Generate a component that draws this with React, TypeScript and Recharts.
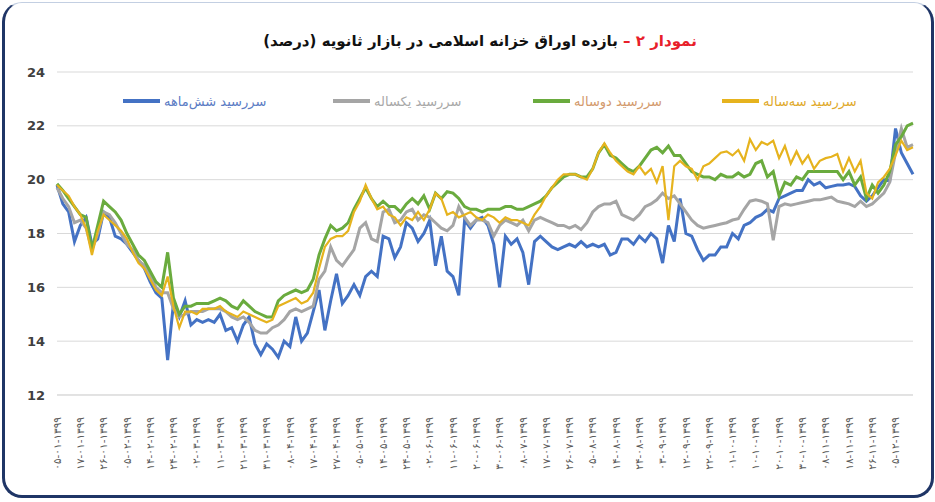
import React from 'react';
import { LineChart, Line, XAxis, YAxis, CartesianGrid } from 'recharts';

// x-axis tick labels (one every 4 points), written in display order
const dates = [
  '۰۵-۰۱-۱۳۹۹', '۱۷-۰۱-۱۳۹۹', '۲۶-۰۱-۱۳۹۹', '۰۵-۰۲-۱۳۹۹', '۱۴-۰۲-۱۳۹۹', '۲۴-۰۲-۱۳۹۹',
  '۰۲-۰۳-۱۳۹۹', '۱۱-۰۳-۱۳۹۹', '۲۱-۰۳-۱۳۹۹', '۳۱-۰۳-۱۳۹۹', '۰۸-۰۴-۱۳۹۹', '۱۷-۰۴-۱۳۹۹',
  '۲۷-۰۴-۱۳۹۹', '۰۵-۰۵-۱۳۹۹', '۱۴-۰۵-۱۳۹۹', '۲۴-۰۵-۱۳۹۹', '۰۲-۰۶-۱۳۹۹', '۱۱-۰۶-۱۳۹۹',
  '۲۰-۰۶-۱۳۹۹', '۳۰-۰۶-۱۳۹۹', '۰۸-۰۷-۱۳۹۹', '۱۷-۰۷-۱۳۹۹', '۲۶-۰۷-۱۳۹۹', '۰۵-۰۸-۱۳۹۹',
  '۱۴-۰۸-۱۳۹۹', '۲۴-۰۸-۱۳۹۹', '۰۳-۰۹-۱۳۹۹', '۱۲-۰۹-۱۳۹۹', '۲۲-۰۹-۱۳۹۹', '۰۱-۱۰-۱۳۹۹',
  '۱۰-۱۰-۱۳۹۹', '۲۰-۱۰-۱۳۹۹', '۳۰-۱۰-۱۳۹۹', '۰۸-۱۱-۱۳۹۹', '۱۸-۱۱-۱۳۹۹', '۲۶-۱۱-۱۳۹۹',
  '۰۵-۱۲-۱۳۹۹',
];

const sixMonth = [
  19.8, 19.1, 18.8, 17.7, 18.3, 18.6, 17.6, 17.8, 18.8, 18.6, 17.9, 17.8, 17.6, 17.3, 17.0, 16.7, 16.2, 15.8, 15.6,
  13.3, 15.4, 14.9, 15.5, 14.6, 14.8, 14.7, 14.8, 14.7, 15.0, 14.4, 14.5, 14.0, 14.6, 14.9, 13.9, 13.5, 13.9, 13.7, 13.4,
  14.0, 13.8, 14.9, 14.0, 14.3, 15.1, 15.9, 14.4, 15.5, 16.5,
  15.4, 15.7, 16.1, 15.7, 16.4, 16.6, 16.4, 17.9, 17.8, 17.1, 17.5, 18.4, 18.2, 17.7, 18.0, 18.5, 16.8, 17.9, 16.6, 16.4,
  15.7, 18.5, 18.2, 18.5, 18.6, 18.3, 17.6, 16.0, 17.9, 17.6, 17.8, 17.3, 16.1, 17.7, 17.9, 17.7, 17.5, 17.4, 17.5, 17.6,
  17.5, 17.7, 17.5, 17.6, 17.5, 17.6, 17.2, 17.3, 17.8,
  17.8, 17.6, 17.9, 17.7, 18.0, 17.8, 16.9, 18.3, 17.7, 19.3, 18.0, 17.9, 17.4, 17.0, 17.2, 17.2, 17.5, 17.5, 18.0, 17.8,
  18.3, 18.4, 18.6, 18.7, 18.9, 18.8, 19.3, 19.4, 19.5, 19.6, 19.6, 20.0, 19.8, 19.9, 19.7, 19.75, 19.8, 19.8, 19.85, 19.75,
  19.4, 19.2, 19.4, 19.7, 20.0, 19.95, 21.9, 21.0, 20.6, 20.2,
];

const oneYear = [
  19.7, 19.3, 19.0, 18.4, 18.5, 18.2, 17.4, 18.0, 18.8, 18.7, 18.4, 18.0, 17.6, 17.4, 17.0, 16.8, 16.4, 16.0, 15.8,
  15.8, 15.2, 14.9, 15.0, 15.1, 15.1, 15.1, 15.2, 15.2, 15.2, 15.1, 14.9, 14.8, 14.9, 14.7, 14.4, 14.3, 14.3, 14.5, 14.6,
  14.8, 15.1, 15.2, 15.1, 15.2, 15.3, 16.3, 16.6, 17.5, 17.0,
  16.8, 17.1, 17.4, 18.2, 18.4, 17.8, 17.7, 18.8, 18.9, 18.4, 18.5, 18.8, 18.9, 18.5, 18.7, 18.6, 18.4, 18.2, 18.1, 18.3,
  19.0, 18.6, 18.3, 18.5, 18.5, 18.4, 17.9, 18.3, 18.5, 18.4, 18.3, 18.5, 18.1, 18.5, 18.6, 18.5, 18.4, 18.3, 18.3, 18.2,
  18.3, 18.15, 18.4, 18.8, 19.0, 19.1, 19.1, 19.2, 18.7,
  18.6, 18.5, 18.7, 19.0, 19.1, 19.25, 19.5, 19.3, 19.4, 19.1, 18.8, 18.5, 18.3, 18.2, 18.25, 18.3, 18.35, 18.4, 18.5, 18.55,
  18.9, 19.2, 19.25, 19.2, 19.1, 17.75, 19.0, 19.1, 19.05, 19.1, 19.15, 19.2, 19.25, 19.25, 19.3, 19.35, 19.2, 19.15, 19.1, 19.0,
  19.2, 19.0, 19.1, 19.3, 19.5, 19.9, 21.0, 21.9, 21.2, 21.3,
];

const twoYear = [
  19.85, 19.6, 19.3, 19.0, 18.7, 18.6, 17.4, 18.3, 19.2, 19.0, 18.8, 18.5, 18.0, 17.6, 17.2, 17.0, 16.6, 16.2, 16.0,
  17.3, 15.6, 15.0, 15.3, 15.3, 15.4, 15.4, 15.4, 15.5, 15.6, 15.5, 15.3, 15.2, 15.5, 15.3, 15.1, 15.0, 14.9, 14.9, 15.5,
  15.7, 15.8, 15.9, 15.8, 15.9, 16.3, 17.2, 17.8, 18.3, 18.1,
  18.2, 18.4, 18.9, 19.3, 19.7, 19.3, 19.0, 19.2, 19.0, 19.0, 18.8, 19.1, 19.3, 19.1, 19.4, 18.9, 19.5, 19.3, 19.55, 19.5,
  19.3, 19.0, 18.9, 18.9, 18.8, 18.9, 18.9, 18.9, 19.0, 19.0, 18.9, 18.9, 19.0, 19.1, 19.2, 19.4, 19.7, 19.9, 20.1, 20.2,
  20.2, 20.1, 20.1, 20.4, 21.0, 21.3, 20.9, 20.8, 20.6,
  20.4, 20.3, 20.5, 20.8, 21.1, 21.2, 21.0, 21.25, 20.9, 20.9, 20.6, 20.3, 20.2, 20.1, 20.1, 20.0, 20.2, 20.1, 20.1, 20.25,
  20.1, 20.2, 20.6, 20.7, 20.1, 20.3, 19.4, 19.9, 19.8, 20.1, 20.0, 20.3, 20.3, 20.3, 20.3, 20.3, 20.3, 20.0, 20.3, 19.8,
  20.1, 19.3, 19.8, 19.5, 19.8, 20.3, 21.3, 21.6, 22.0, 22.1,
];

const threeYear = [
  19.8, 19.6, 19.4, 19.0, 18.7, 18.2, 17.2, 18.1, 18.7, 18.5, 18.3, 18.1, 17.8, 17.3, 16.9, 16.7, 16.3, 15.9, 15.7,
  16.4, 15.3, 14.5, 15.1, 15.1, 15.0, 15.2, 15.2, 15.2, 15.3, 15.1, 15.0, 14.9, 15.1, 15.0, 14.9, 14.8, 14.7, 14.8, 15.3,
  15.4, 15.5, 15.6, 15.4, 15.5, 15.8, 16.7, 17.5, 17.8, 17.9,
  17.9, 18.1, 18.8, 19.2, 19.8, 19.3, 18.9, 19.0, 18.7, 18.6, 18.3, 18.6, 18.5, 18.8, 18.5, 18.9, 19.5, 19.3, 18.7, 18.8,
  18.6, 18.7, 18.8, 18.6, 18.5, 18.7, 18.6, 18.4, 18.6, 18.5, 18.5, 18.4, 18.3, 18.7, 19.0, 19.4, 19.7, 20.0, 20.2, 20.2,
  20.2, 20.1, 20.0, 20.4, 21.0, 21.35, 21.0, 20.7, 20.5,
  20.3, 20.2, 20.5, 20.2, 20.4, 19.9, 20.5, 18.5, 20.5, 20.7, 20.5, 20.4, 20.0, 20.5, 20.6, 20.8, 21.0, 21.05, 20.9, 21.1,
  20.7, 21.5, 21.1, 21.4, 21.3, 21.45, 20.8, 21.25, 20.6, 21.05, 20.6, 20.9, 20.4, 20.7, 20.8, 20.85, 20.95, 20.3, 20.8, 20.3,
  20.7, 19.5, 19.3, 19.9, 20.1, 20.4, 20.9, 21.45, 21.1, 21.2,
];

const yTicks = [12, 14, 16, 18, 20, 22, 24];

const series = [
  { key: 'sixMonth', name: 'سررسید شش‌ماهه', color: '#4472c4', text: '#5b7cc4', width: 3, left: 123 },
  { key: 'oneYear', name: 'سررسید یکساله', color: '#a5a5a5', text: '#a8a8a8', width: 3, left: 333 },
  { key: 'twoYear', name: 'سررسید دوساله', color: '#6aab3e', text: '#d39a6c', width: 3, left: 533 },
  { key: 'threeYear', name: 'سررسید سه‌ساله', color: '#e6b31e', text: '#e0a92a', width: 2.2, left: 722 },
];

const data = sixMonth.map((v, i) => ({
  idx: i,
  sixMonth: v,
  oneYear: oneYear[i],
  twoYear: twoYear[i],
  threeYear: threeYear[i],
}));

const FONT = '"DejaVu Sans", sans-serif';

function DateTick({ x, y, payload }: any) {
  const label = dates[Math.round(payload.value / 4)] ?? '';
  const ty = y + 14;
  return (
    <text
      x={x}
      y={ty}
      dy="0.35em"
      transform={`rotate(-90, ${x}, ${ty})`}
      textAnchor="end"
      fill="#595959"
      fontSize={10.5}
      fontFamily={FONT}
    >
      {label}
    </text>
  );
}

export default function App() {
  return (
    <div
      style={{
        position: 'absolute',
        left: 0,
        top: 0,
        width: 935,
        height: 502,
        background: '#fff',
        fontFamily: FONT,
      }}
    >
      <div
        style={{
          position: 'absolute',
          left: 2,
          top: 2,
          width: 926,
          height: 492,
          borderTop: '1px solid #c3cfe2',
          borderLeft: '3px solid #1f3566',
          borderRight: '3px solid #1f3566',
          borderBottom: '3px solid #1f3566',
          borderRadius: 20,
        }}
      />
      <div
        dir="rtl"
        style={{
          position: 'absolute',
          left: 0,
          width: 960,
          top: 32,
          textAlign: 'center',
          fontSize: 15,
          fontWeight: 700,
          color: '#111',
          whiteSpace: 'nowrap',
        }}
      >
        <span style={{ color: '#e8202a' }}>نمودار ۲ – </span>
        بازده اوراق خزانه اسلامی در بازار ثانویه (درصد)
      </div>
      {series.map((s) => (
        <div
          key={s.key}
          style={{
            position: 'absolute',
            left: s.left,
            top: 92,
            height: 18,
            display: 'flex',
            alignItems: 'center',
            gap: 4,
            whiteSpace: 'nowrap',
          }}
        >
          <div style={{ width: 37, height: s.width + 1, background: s.color }} />
          <span dir="rtl" style={{ color: s.text, fontSize: 13 }}>
            {s.name}
          </span>
        </div>
      ))}
      <div style={{ position: 'absolute', left: 0, top: 0 }}>
        <LineChart
          width={935}
          height={502}
          data={data}
          margin={{ top: 72, right: 22, bottom: 7, left: 0 }}
        >
          <CartesianGrid vertical={false} stroke="#d9d9d9" />
          <XAxis
            dataKey="idx"
            type="category"
            interval={3}
            height={100}
            tickLine={false}
            axisLine={{ stroke: '#d9d9d9' }}
            tick={<DateTick />}
          />
          <YAxis
            domain={[12, 24]}
            ticks={yTicks}
            width={57}
            axisLine={false}
            tickLine={false}
            tickMargin={6}
            tick={{ fill: '#404040', fontSize: 13, fontWeight: 700, fontFamily: FONT }}
          />
          {series.map((s) => (
            <Line
              key={s.key}
              type="linear"
              dataKey={s.key}
              name={s.name}
              stroke={s.color}
              strokeWidth={s.width}
              dot={false}
              isAnimationActive={false}
            />
          ))}
        </LineChart>
      </div>
    </div>
  );
}
